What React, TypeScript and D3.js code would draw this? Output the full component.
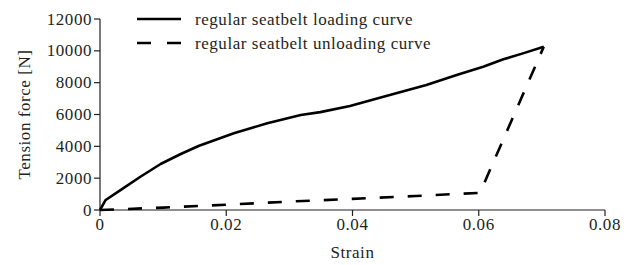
import React from "react";
import * as d3 from "d3";

const loadStrain = [0, 0.0009, 0.0033, 0.0064, 0.0096, 0.0128, 0.0157, 0.0212, 0.0265, 0.0318, 0.0349, 0.0396, 0.0449, 0.0517, 0.0565, 0.0607, 0.0639, 0.067, 0.0703];
const loadForce = [0, 630, 1260, 2090, 2890, 3520, 4040, 4820, 5450, 5970, 6150, 6530, 7120, 7850, 8480, 9000, 9470, 9840, 10260];
const unloadStrain = [0, 0.01, 0.02, 0.03, 0.04, 0.05, 0.0602, 0.0703];
const unloadForce = [0, 150, 330, 530, 700, 880, 1080, 10260];
const xTicks = [0, 0.02, 0.04, 0.06, 0.08];
const yTicks = [0, 2000, 4000, 6000, 8000, 10000, 12000];
const legendLabels = ["regular seatbelt loading curve", "regular seatbelt unloading curve"];

const W = 636, H = 265;
const m = { left: 100, right: 31, top: 19, bottom: 55 };
const ink = "#231f20";
const txt: React.CSSProperties = { fontFamily: '"Liberation Serif"', fontSize: 17, letterSpacing: 0.55, fill: ink };

export default function App() {
  const x = d3.scaleLinear().domain([0, 0.08]).range([m.left, W - m.right]);
  const y = d3.scaleLinear().domain([0, 12000]).range([H - m.bottom, m.top]);
  const line = d3.line<[number, number]>().x(d => x(d[0])).y(d => y(d[1]));
  const loadPts = loadStrain.map((s, i) => [s, loadForce[i]] as [number, number]);
  const unloadPts = unloadStrain.map((s, i) => [s, unloadForce[i]] as [number, number]);
  const y0 = y(0);
  return (
    <svg width={W} height={H} style={{ position: "absolute", left: 0, top: 0 }}>
      <rect width={W} height={H} fill="#fff" />
      <line x1={x(0)} x2={x(0.08)} y1={y0} y2={y0} stroke={ink} strokeWidth={1.2} />
      <line x1={x(0)} x2={x(0)} y1={y(12000)} y2={y0} stroke={ink} strokeWidth={1.2} />
      {xTicks.map(t => (
        <g key={"x" + t}>
          <line x1={x(t)} x2={x(t)} y1={y0} y2={y0 + 6} stroke={ink} strokeWidth={1.2} />
          <text x={x(t)} y={y0 + 20} textAnchor="middle" style={txt}>{t === 0 ? "0" : t.toFixed(2)}</text>
        </g>
      ))}
      {yTicks.map(t => (
        <g key={"y" + t}>
          <line x1={x(0) - 6} x2={x(0)} y1={y(t)} y2={y(t)} stroke={ink} strokeWidth={1.2} />
          <text x={x(0) - 8} y={y(t) + 5.5} textAnchor="end" style={txt}>{t}</text>
        </g>
      ))}
      <text x={(x(0) + x(0.08)) / 2} y={258} textAnchor="middle" style={txt}>Strain</text>
      <text transform={`translate(30,${(y(0) + y(12000)) / 2}) rotate(-90)`} textAnchor="middle" style={txt}>Tension force [N]</text>
      <path d={line(loadPts) || ""} fill="none" stroke="#000" strokeWidth={2.6} strokeLinejoin="round" />
      <path d={line(unloadPts) || ""} fill="none" stroke="#000" strokeWidth={2.6} strokeDasharray="14,14" />
      <line x1={137} x2={181} y1={19} y2={19} stroke="#000" strokeWidth={2.6} />
      <line x1={137} x2={181} y1={43} y2={43} stroke="#000" strokeWidth={2.6} strokeDasharray="14,16" />
      <text x={195} y={24.5} style={txt}>{legendLabels[0]}</text>
      <text x={195} y={48.5} style={txt}>{legendLabels[1]}</text>
    </svg>
  );
}
